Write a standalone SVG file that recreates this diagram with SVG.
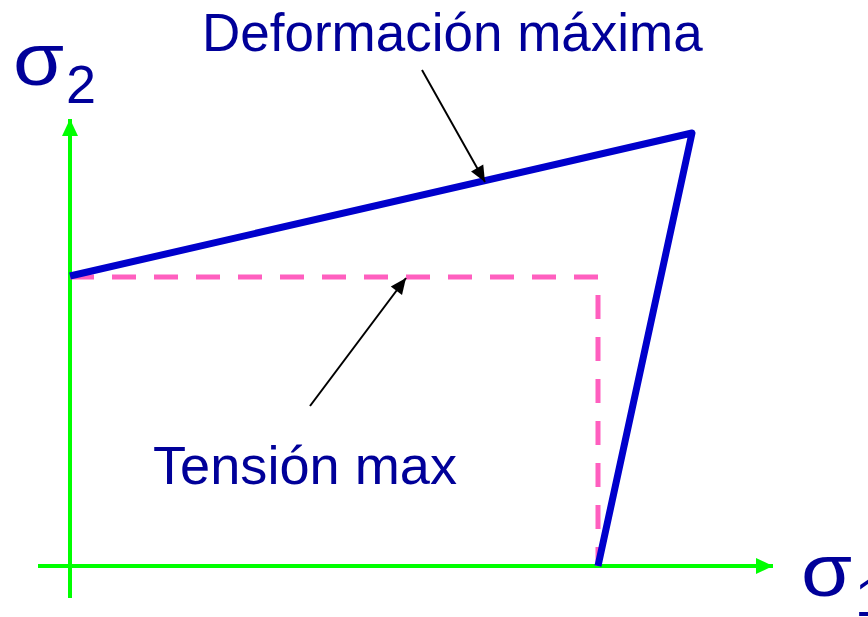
<svg xmlns="http://www.w3.org/2000/svg" width="868" height="617" viewBox="0 0 868 617">
<style>
.lbl{font-family:"Liberation Sans",Arial,sans-serif;fill:#000099}
.axis{stroke:#00FF00;stroke-width:4;fill:none}
.ptr{stroke:#000;stroke-width:2;fill:none}
</style>
<defs>
<marker id="ga" markerUnits="userSpaceOnUse" markerWidth="20" markerHeight="20" viewBox="0 0 20 20" refX="18" refY="10" orient="auto"><path d="M1,2 L18,10 L1,18 Z" fill="#00FF00"/></marker>
<marker id="ka" markerUnits="userSpaceOnUse" markerWidth="18" markerHeight="16" viewBox="0 0 18 16" refX="17" refY="8" orient="auto"><path d="M1,1 L17,8 L1,15 Z" fill="#000"/></marker>
</defs>
<rect width="868" height="617" fill="#fff"/>
<g id="axes">
<line class="axis" x1="70" y1="598" x2="70" y2="119" marker-end="url(#ga)"/>
<line class="axis" x1="38" y1="566" x2="773" y2="566" marker-end="url(#ga)"/>
</g>
<g id="tension-max">
<polyline points="70,277 598,277 598,566" fill="none" stroke="#FF5FBF" stroke-width="5" stroke-dasharray="24 18"/>
</g>
<g id="deformacion-maxima">
<polyline points="70,276 692,133 598,566" fill="none" stroke="#0000CC" stroke-width="7" stroke-linejoin="round"/>
</g>
<g id="connectors">
<line class="ptr" x1="422" y1="70" x2="485" y2="182" marker-end="url(#ka)"/>
<line class="ptr" x1="310" y1="406" x2="406" y2="278" marker-end="url(#ka)"/>
</g>
<g id="labels">
<text class="lbl" x="202" y="51" font-size="53">Deformación máxima</text>
<text class="lbl" x="153" y="484" font-size="53" textLength="304" lengthAdjust="spacingAndGlyphs">Tensión max</text>
<text class="lbl" font-size="74" transform="translate(13,85) scale(1.12,1)">σ</text>
<text class="lbl" x="66" y="103" font-size="54">2</text>
<text class="lbl" font-size="74" transform="translate(801,596) scale(1.12,1)">σ</text>
<text class="lbl" x="855" y="616" font-size="54">1</text>
</g>
</svg>
